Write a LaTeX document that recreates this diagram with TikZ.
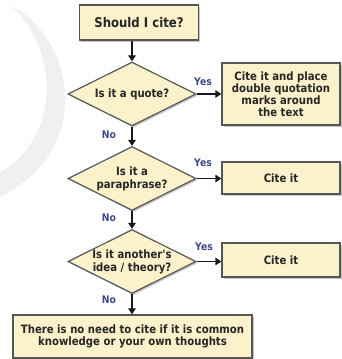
\documentclass[tikz,border=0pt]{standalone}
\usepackage{fontspec}
\newfontfamily\df{DejaVu Sans}[FakeStretch=0.88]
\usetikzlibrary{shapes.geometric,shadows,arrows.meta}
\definecolor{boxfill}{HTML}{FBF1CB}
\definecolor{boxline}{HTML}{575757}
\definecolor{lbl}{HTML}{3B4A8C}
\begin{document}
\begin{tikzpicture}[x=1pt,y=-1pt,
  shade/.style={drop shadow={shadow xshift=1.6pt,shadow yshift=-1.6pt,opacity=0.45}},
  box/.style={draw=boxline,line width=1.2pt,fill=boxfill,shade,inner sep=0pt,align=center,
    font=\df\bfseries\fontsize{11.5}{12}\selectfont,text=black!85},
  dec/.style={diamond,draw=boxline,line width=1.2pt,fill=boxfill,shade,inner sep=0pt,
    minimum width=128pt,minimum height=64pt},
  dtext/.style={align=center,inner sep=0pt,font=\df\bfseries\fontsize{11.5}{13}\selectfont,text=black!85},
  lab/.style={inner sep=0pt,font=\df\bfseries\fontsize{10.5}{11}\selectfont,text=lbl},
  arr/.style={-{Triangle[length=6pt,width=7.5pt]},line width=1.6pt,black!90}]
\useasboundingbox (0,0) rectangle (341,359);
% faint watermark
\fill[black!6] (12,6) .. controls (75,40) and (95,150) .. (0,197) -- (0,172)
  .. controls (58,140) and (62,55) .. (12,6) -- cycle;
% nodes
\node[box,minimum width=119pt,minimum height=35pt,font=\df\bfseries\fontsize{13.3}{14}\selectfont] (title) at (139,22.5) {Should I cite?};
\node[dec] (d1) at (132,94) {};
\node[dtext] (t1) at (d1) {Is it a quote?};
\node[dec] (d2) at (132,178.5) {};
\node[dtext] (t2) at (d2) {Is it a\\paraphrase?};
\node[dec] (d3) at (132,261.5) {};
\node[dtext] (t3) at (d3) {Is it another's\\idea / theory?};
\node[box,minimum width=118pt,minimum height=62pt] (b1) at (281,94) {Cite it and place\\double quotation\\marks around\\the text};
\node[box,minimum width=118pt,minimum height=32pt] (b2) at (281,178) {Cite it};
\node[box,minimum width=118pt,minimum height=34pt] (b3) at (281,260) {Cite it};
\node[box,minimum width=239pt,minimum height=43pt] (b4) at (132.5,336.5) {There is no need to cite if it is common\\knowledge or your own thoughts};
% labels
\node[lab] (y1) at (203,82) {Yes};
\node[lab] (y2) at (203,163) {Yes};
\node[lab] (y3) at (204,247) {Yes};
\node[lab] (n1) at (109,135) {No};
\node[lab] (n2) at (109,218) {No};
\node[lab] (n3) at (109,300) {No};
% connectors
\draw[arr] (d1.north |- title.south) -- (d1.north);
\draw[arr] (d1.south) -- (d2.north);
\draw[arr] (d2.south) -- (d3.north);
\draw[arr] (d3.south) -- (d3.south |- b4.north);
\draw[arr] (d1.east) -- (d1.east -| b1.west);
\draw[arr] (d2.east) -- (d2.east -| b2.west);
\draw[arr] (d3.east) -- (d3.east -| b3.west);
\end{tikzpicture}
\end{document}
